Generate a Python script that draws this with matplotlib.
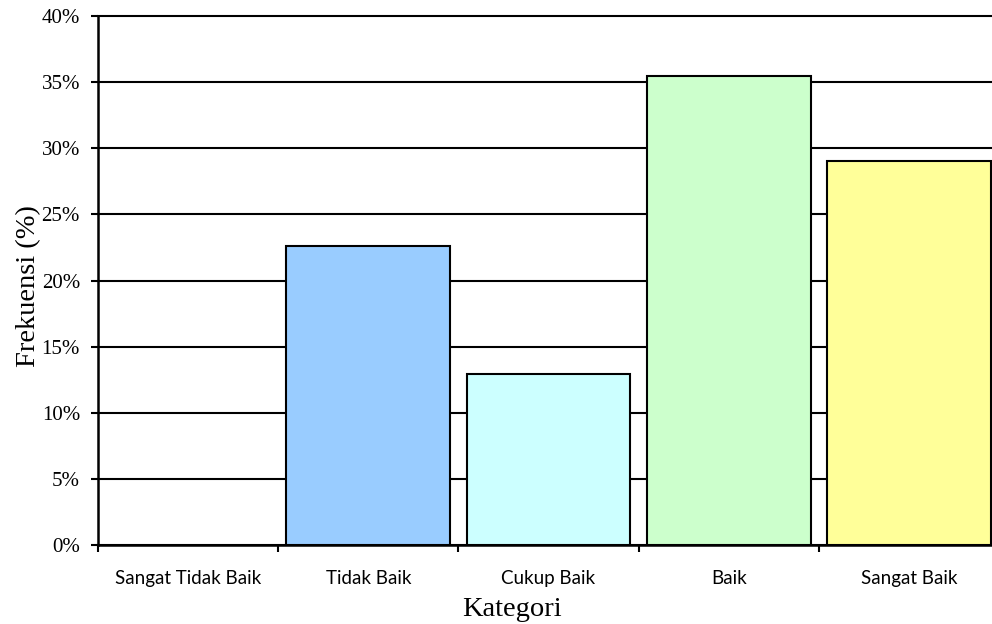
import matplotlib
matplotlib.use("Agg")
import matplotlib.pyplot as plt
from matplotlib.ticker import FuncFormatter, MultipleLocator

categories = ["Sangat Tidak Baik", "Tidak Baik", "Cukup Baik", "Baik", "Sangat Baik"]
frekuensi = [0.0, 22.58, 12.90, 35.48, 29.03]
colors = ["#FFFFFF", "#99CCFF", "#CCFFFF", "#CCFFCC", "#FFFF99"]

fig = plt.figure(figsize=(9.92, 6.24), dpi=100)
ax = fig.add_axes([98 / 992, 79 / 624, 901 / 992, 529 / 624])

x = list(range(len(categories)))
ax.set_axisbelow(True)
ax.yaxis.grid(True, color="black", linewidth=1.5)
bars = ax.bar(x, frekuensi, width=0.91, color=colors, edgecolor="black",
              linewidth=1.5, zorder=3)
bars[0].set_visible(frekuensi[0] > 0)

ax.set_xlim(-0.5, len(categories) - 0.5)
ax.set_ylim(0, 40)
ax.yaxis.set_major_locator(MultipleLocator(5))
ax.yaxis.set_major_formatter(FuncFormatter(lambda v, p: f"{v:.0f}%"))
for gl in ax.yaxis.get_gridlines():
    gl.set_clip_on(False)

ax.set_xticks(x)
ax.set_xticklabels(categories, fontfamily="Lato", fontsize=13.5)
ax.set_xticks([i - 0.5 for i in range(len(categories) + 1)], minor=True)
ax.tick_params(axis="x", which="major", length=0, pad=18)
ax.tick_params(axis="x", which="minor", length=5, width=1.5, direction="out")
ax.tick_params(axis="y", length=5, width=1.5, direction="out", pad=8)
for lbl in ax.get_yticklabels():
    lbl.set_fontfamily("Liberation Serif")
    lbl.set_fontsize(15)

for side in ("top", "right"):
    ax.spines[side].set_visible(False)
for side in ("left", "bottom"):
    ax.spines[side].set_linewidth(1.8)
    ax.spines[side].set_zorder(4)

ax.set_ylabel("Frekuensi (%)", fontfamily="Liberation Serif", fontsize=20.5)
ax.yaxis.set_label_coords(-0.063, 0.49)
ax.set_xlabel("Kategori", fontfamily="Liberation Serif", fontsize=20.5)
ax.xaxis.set_label_coords(0.4595, -0.134)
ax.xaxis.label.set_va("baseline")

fig.savefig("out.png", dpi=100)
